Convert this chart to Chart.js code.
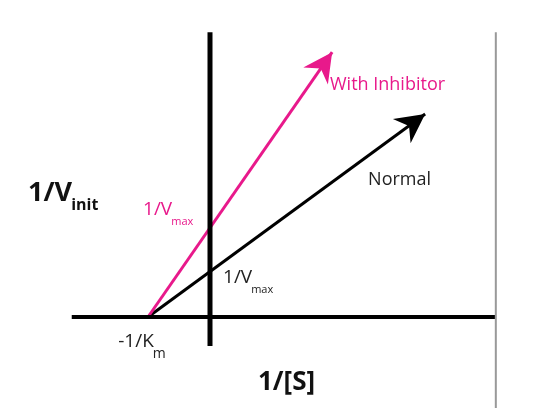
<!DOCTYPE html>
<html>
<head>
<meta charset="utf-8">
<script src="https://cdn.jsdelivr.net/npm/chart.js@4.4.1/dist/chart.umd.min.js"></script>
<style>
  body { margin: 0; background: #fff; }
  canvas { display: block; }
</style>
</head>
<body>
<canvas id="lbChart" width="536" height="420"></canvas>
<script>
// Lineweaver-Burk plot, x = 1/[S], y = 1/V
const kmIntercept = -1;          // -1/Km on the x axis
const normalVmaxInv = 1;         // 1/Vmax without inhibitor
const inhibitorVmaxInv = 2;      // 1/Vmax with inhibitor
const normalX = [kmIntercept, 3.47];
const normalY = [0, 4.46];
const inhibitorX = [kmIntercept, 1.97];
const inhibitorY = [0, 5.82];
const axisX = [-2.23, 4.6];
const axisY = [-0.64, 6.26];
const frameX = 4.61;             // thin grey line on the right
const frameY = [-2.0, 6.26];

const pink = '#e8198b';

function pts(xs, ys) {
  return xs.map((x, i) => ({ x: x, y: ys[i] }));
}

// arrow heads at the end of the two lines
const arrowPlugin = {
  id: 'arrows',
  afterDatasetsDraw(chart) {
    const c = chart.ctx;
    chart.data.datasets.forEach((ds, i) => {
      if (!ds.arrow) return;
      const meta = chart.getDatasetMeta(i);
      const p0 = meta.data[meta.data.length - 2];
      const p1 = meta.data[meta.data.length - 1];
      const ang = Math.atan2(p1.y - p0.y, p1.x - p0.x);
      const len = 29, half = 15, notch = 20;
      c.save();
      c.translate(p1.x, p1.y);
      c.rotate(ang);
      c.beginPath();
      c.moveTo(0, 0);
      c.lineTo(-len, -half);
      c.lineTo(-notch, 0);
      c.lineTo(-len, half);
      c.closePath();
      c.fillStyle = ds.borderColor;
      c.fill();
      c.restore();
    });
  }
};

// text labels, placed in data coordinates
const labels = [
  { text: 'With Inhibitor', x: 1.935, y: 5.10, color: pink, font: '18px "Open Sans"' },
  { text: 'Normal', x: 2.55, y: 3.01, color: '#222', font: '18px "Open Sans"' },
  { text: '1/V', sub: 'max', x: -1.08, y: 2.35, color: pink, font: '19px "Open Sans"', subFont: '11px "Open Sans"' },
  { text: '1/V', sub: 'max', x: 0.21, y: 0.86, color: '#222', font: '19px "Open Sans"', subFont: '11px "Open Sans"' },
  { text: '-1/K', sub: 'm', x: -1.48, y: -0.55, color: '#222', font: '19px "Open Sans"', subFont: '14px "Open Sans"' },
  { text: '1/V', sub: 'init', x: -2.935, y: 2.725, color: '#111', font: 'bold 27px "Open Sans"', subFont: 'bold 16px "Open Sans"' },
  { text: '1/[S]', x: 0.774, y: -1.45, color: '#111', font: 'bold 26px "Open Sans"' }
];

const labelPlugin = {
  id: 'labels',
  afterDraw(chart) {
    const c = chart.ctx;
    const sx = chart.scales.x, sy = chart.scales.y;
    c.save();
    c.textBaseline = 'middle';
    c.textAlign = 'left';
    labels.forEach(l => {
      const px = sx.getPixelForValue(l.x);
      const py = sy.getPixelForValue(l.y);
      c.font = l.font;
      c.fillStyle = l.color;
      c.fillText(l.text, px, py);
      if (l.sub) {
        const w = c.measureText(l.text).width;
        c.font = l.subFont;
        c.fillText(l.sub, px + w - 1, py + 12);
      }
    });
    c.restore();
  }
};

new Chart(document.getElementById('lbChart').getContext('2d'), {
  type: 'scatter',
  data: {
    datasets: [
      {
        data: [{ x: frameX, y: frameY[0] }, { x: frameX, y: frameY[1] }],
        showLine: true, borderColor: '#999', borderWidth: 2, pointRadius: 0
      },
      {
        data: [{ x: axisX[0], y: 0 }, { x: axisX[1], y: 0 }],
        showLine: true, borderColor: '#000', borderWidth: 4, pointRadius: 0
      },
      {
        data: [{ x: 0, y: axisY[0] }, { x: 0, y: axisY[1] }],
        showLine: true, borderColor: '#000', borderWidth: 5, pointRadius: 0
      },
      {
        data: pts(inhibitorX, inhibitorY),
        showLine: true, borderColor: pink, borderWidth: 3, pointRadius: 0, arrow: true
      },
      {
        data: pts(normalX, normalY),
        showLine: true, borderColor: '#000', borderWidth: 3, pointRadius: 0, arrow: true
      }
    ]
  },
  options: {
    responsive: false,
    animation: false,
    layout: { padding: 0 },
    plugins: {
      legend: { display: false },
      tooltip: { enabled: false }
    },
    scales: {
      x: { type: 'linear', display: false, min: -210 / 62, max: 326 / 62 },
      y: { type: 'linear', display: false, min: -103 / 45.5, max: 317 / 45.5 }
    }
  },
  plugins: [arrowPlugin, labelPlugin]
});
</script>
</body>
</html>
